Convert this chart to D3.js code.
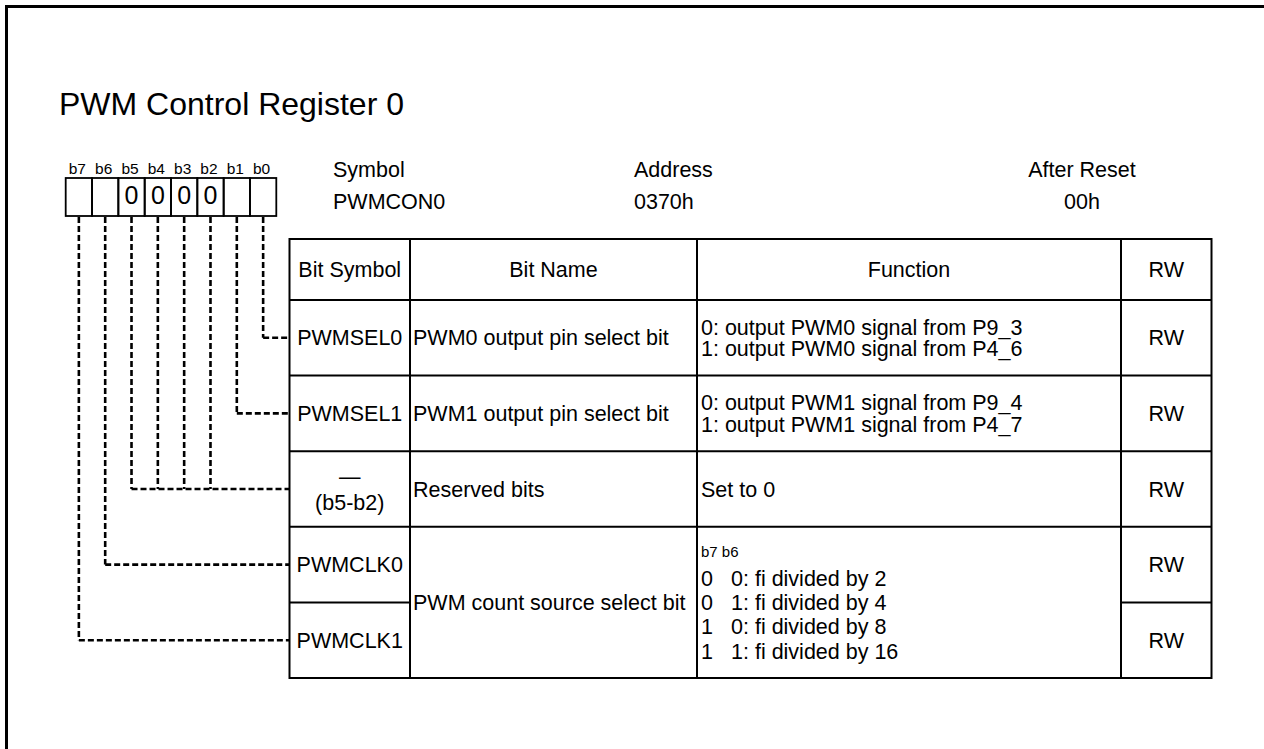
<!DOCTYPE html>
<html>
<head>
<meta charset="utf-8">
<script src="https://cdn.jsdelivr.net/npm/d3@7"></script>
<style>
  html, body { margin: 0; padding: 0; background: #fff; }
  svg { display: block; }
  text { font-family: "Liberation Sans", Arial, Helvetica, sans-serif; fill: #000; }
</style>
</head>
<body>
<svg id="chart" width="1264" height="749"></svg>
<script>
// ---------------- data ----------------
const registerTitle = "PWM Control Register 0";
const bitLabels = ["b7", "b6", "b5", "b4", "b3", "b2", "b1", "b0"];
const bitResetValues = ["", "", "0", "0", "0", "0", "", ""];
const infoHeaders = ["Symbol", "Address", "After Reset"];
const infoValues = ["PWMCON0", "0370h", "00h"];
const columnHeaders = ["Bit Symbol", "Bit Name", "Function", "RW"];
const bitSymbols = [["PWMSEL0"], ["PWMSEL1"], ["\u2014", "(b5-b2)"], ["PWMCLK0"], ["PWMCLK1"]];
const rowBits = [["b0"], ["b1"], ["b5", "b4", "b3", "b2"], ["b6"], ["b7"]];
const bitNames = ["PWM0 output pin select bit", "PWM1 output pin select bit", "Reserved bits", "PWM count source select bit"];
const bitNameSpans = [1, 1, 1, 2];
const functionTexts = [
  ["0: output PWM0 signal from P9_3", "1: output PWM0 signal from P4_6"],
  ["0: output PWM1 signal from P9_4", "1: output PWM1 signal from P4_7"],
  ["Set to 0"]
];
const countSourceHeader = "b7 b6";
const countSourceB7 = ["0", "0", "1", "1"];
const countSourceText = ["0: fi divided by 2", "1: fi divided by 4", "0: fi divided by 8", "1: fi divided by 16"];
const rwValues = ["RW", "RW", "RW", "RW", "RW"];

// ---------------- layout ----------------
const svg = d3.select("#chart");
const FS = 21.5;

// outer frame
svg.append("rect").attr("x", 6.5).attr("y", 6.5).attr("width", 1300).attr("height", 800)
  .attr("fill", "none").attr("stroke", "#000").attr("stroke-width", 3);

// title
svg.append("text").attr("x", 59).attr("y", 115).attr("font-size", 32).text(registerTitle);

// bit boxes
const xBit = d3.scaleBand().domain(bitLabels).range([65.7, 276.3]);
const boxTop = 178, boxBottom = 216;
svg.selectAll("text.bitlabel").data(bitLabels).join("text")
  .attr("class", "bitlabel")
  .attr("x", d => xBit(d) + xBit.bandwidth() / 2 - 1.5)
  .attr("y", 174).attr("font-size", 15.5).attr("text-anchor", "middle").text(d => d);
svg.selectAll("rect.bitbox").data(bitLabels).join("rect")
  .attr("class", "bitbox")
  .attr("x", d => xBit(d)).attr("y", boxTop)
  .attr("width", xBit.bandwidth()).attr("height", boxBottom - boxTop)
  .attr("fill", "none").attr("stroke", "#000").attr("stroke-width", 1.8);
svg.selectAll("text.bitval").data(bitLabels).join("text")
  .attr("class", "bitval")
  .attr("x", d => xBit(d) + xBit.bandwidth() / 2)
  .attr("y", 204).attr("font-size", 25).attr("text-anchor", "middle")
  .text((d, i) => bitResetValues[i]);

// symbol / address / after reset
const infoX = [333, 634, 1082];
const infoAnchor = ["start", "start", "middle"];
infoHeaders.forEach((h, i) => {
  svg.append("text").attr("x", infoX[i]).attr("y", 177).attr("font-size", FS)
    .attr("text-anchor", infoAnchor[i]).text(h);
  svg.append("text").attr("x", infoX[i]).attr("y", 209).attr("font-size", FS)
    .attr("text-anchor", infoAnchor[i]).text(infoValues[i]);
});

// table geometry
const colEdges = [289.5, 410, 697, 1121, 1211.5];
const headerTop = 239, headerBottom = 300;
const yRow = d3.scaleLinear().domain([0, bitSymbols.length]).range([headerBottom, 678]);
const rowMid = i => (yRow(i) + yRow(i + 1)) / 2;

const g = svg.append("g").attr("stroke", "#000").attr("stroke-width", 2).attr("fill", "none");
g.append("rect").attr("x", colEdges[0]).attr("y", headerTop)
  .attr("width", colEdges[4] - colEdges[0]).attr("height", yRow(bitSymbols.length) - headerTop);
colEdges.slice(1, 4).forEach(x => g.append("line").attr("x1", x).attr("x2", x)
  .attr("y1", headerTop).attr("y2", yRow(bitSymbols.length)));
g.append("line").attr("x1", colEdges[0]).attr("x2", colEdges[4]).attr("y1", headerBottom).attr("y2", headerBottom);
let spanRows = [];
let acc = 0;
bitNameSpans.forEach(s => { acc += s; spanRows.push(acc); });
for (let i = 1; i < bitSymbols.length; i++) {
  if (spanRows.includes(i)) {
    g.append("line").attr("x1", colEdges[0]).attr("x2", colEdges[4]).attr("y1", yRow(i)).attr("y2", yRow(i));
  } else {
    g.append("line").attr("x1", colEdges[0]).attr("x2", colEdges[1]).attr("y1", yRow(i)).attr("y2", yRow(i));
    g.append("line").attr("x1", colEdges[3]).attr("x2", colEdges[4]).attr("y1", yRow(i)).attr("y2", yRow(i));
  }
}

// header texts
const hMid = (headerTop + headerBottom) / 2;
columnHeaders.forEach((h, i) => {
  svg.append("text").attr("x", (colEdges[i] + colEdges[i + 1]) / 2).attr("y", hMid + 7.5)
    .attr("font-size", FS).attr("text-anchor", "middle").text(h);
});

// bit symbols
bitSymbols.forEach((lines, i) => {
  const cx = (colEdges[0] + colEdges[1]) / 2;
  const n = lines.length;
  lines.forEach((t, j) => {
    svg.append("text").attr("x", cx)
      .attr("y", rowMid(i) + 7.5 + (j - (n - 1) / 2) * 26)
      .attr("font-size", FS).attr("text-anchor", "middle").text(t);
  });
});

// bit names
let r0 = 0;
bitNames.forEach((t, i) => {
  const y0 = yRow(r0), y1 = yRow(r0 + bitNameSpans[i]);
  svg.append("text").attr("x", 413).attr("y", (y0 + y1) / 2 + 7.5)
    .attr("font-size", FS).text(t);
  r0 += bitNameSpans[i];
});

// functions
functionTexts.forEach((lines, i) => {
  const n = lines.length;
  lines.forEach((t, j) => {
    svg.append("text").attr("x", 701)
      .attr("y", rowMid(i) + 7.5 + (j - (n - 1) / 2) * 21.5)
      .attr("font-size", FS).text(t);
  });
});
// count source function block
svg.append("text").attr("x", 701).attr("y", 557).attr("font-size", 15).text(countSourceHeader);
const yCount = d3.scalePoint().domain(countSourceText).range([578, 651]);
countSourceText.forEach((t, k) => {
  const y = yCount(t) + 7.5;
  svg.append("text").attr("x", 701).attr("y", y).attr("font-size", FS).text(countSourceB7[k]);
  svg.append("text").attr("x", 731).attr("y", y).attr("font-size", FS).text(t);
});

// RW
rwValues.forEach((t, i) => {
  svg.append("text").attr("x", (colEdges[3] + colEdges[4]) / 2).attr("y", rowMid(i) + 7.5)
    .attr("font-size", FS).attr("text-anchor", "middle").text(t);
});

// dashed connectors
const dg = svg.append("g").attr("stroke", "#000").attr("stroke-width", 2.6)
  .attr("stroke-dasharray", "6,3").attr("fill", "none");
rowBits.forEach((bits, i) => {
  const y = rowMid(i);
  const xs = bits.map(b => xBit(b) + xBit.bandwidth() / 2);
  xs.forEach(x => dg.append("line").attr("x1", x).attr("x2", x).attr("y1", boxBottom + 1).attr("y2", y));
  dg.append("line").attr("x1", d3.min(xs)).attr("x2", colEdges[0]).attr("y1", y).attr("y2", y);
});
</script>
</body>
</html>
